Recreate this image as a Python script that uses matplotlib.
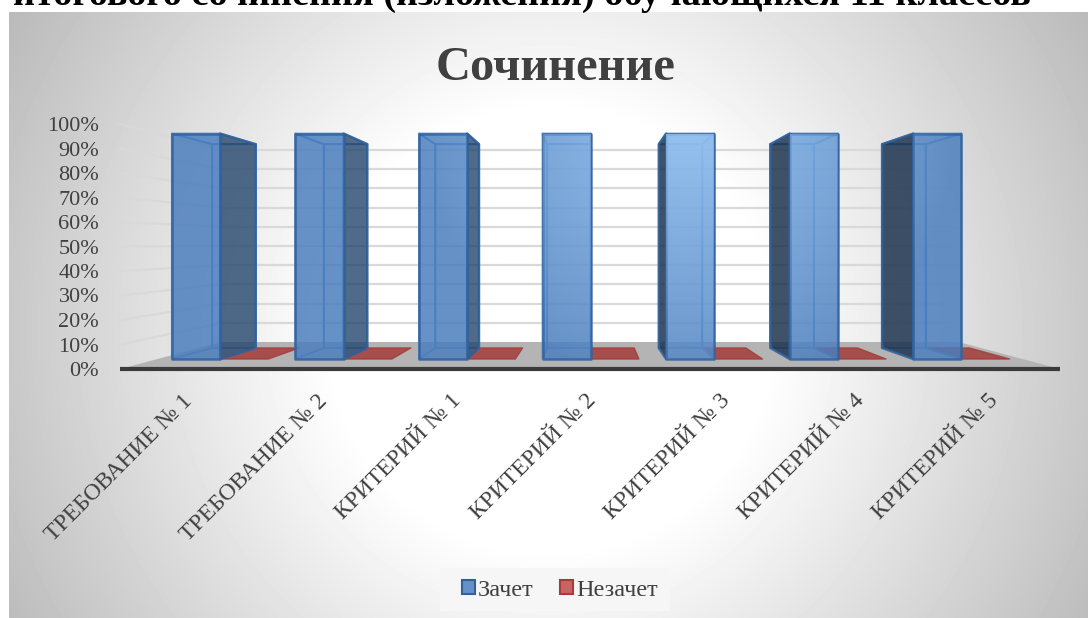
import numpy as np
import matplotlib
matplotlib.use('Agg')
import matplotlib.pyplot as plt
from matplotlib.colors import to_rgba
from matplotlib.patches import Polygon, Patch, Rectangle
from matplotlib.transforms import ScaledTranslation

plt.rcParams['font.family'] = ['Liberation Serif', 'DejaVu Serif']

categories = ['ТРЕБОВАНИЕ № 1', 'ТРЕБОВАНИЕ № 2', 'КРИТЕРИЙ № 1', 'КРИТЕРИЙ № 2',
              'КРИТЕРИЙ № 3', 'КРИТЕРИЙ № 4', 'КРИТЕРИЙ № 5']
zachet = [100, 100, 100, 100, 100, 100, 100]
nezachet = [0, 0, 0, 0, 0, 0, 0]
y_ticks = [0, 10, 20, 30, 40, 50, 60, 70, 80, 90, 100]
y_labels = ['0%', '10%', '20%', '30%', '40%', '50%', '60%', '70%', '80%', '90%', '100%']

W, H = 1088, 618
BLUE = '#4a7dbd'
EDGE = '#2f619c'
RED = '#a33c3a'
TEXT = '#404040'

# fake 3d: depth t goes 0 (front) .. 1 (back wall), shrinking to a vanishing point
VX, VY = 3.5, 51.0
BAR_T = (0.37, 0.78)
BAR_W = (0.116, 0.506, 0.896)
PX_X, PX_Y = 940 / 7, 245 / 100


def proj(x, y, t):
    s = 1 - 0.216 * t
    return (VX + (x - VX) * s, VY + (y - VY) * s)


def face(ax, pts, color, alpha, z, edge=EDGE, lw=1.8):
    p = Polygon(pts, closed=True, facecolor=to_rgba(color, alpha), edgecolor=to_rgba(edge, 0.85),
                lw=lw, zorder=z, clip_on=False, joinstyle='round')
    ax.add_patch(p)
    return p


def highlight(ax, pts, z):
    # the light spot on the front faces, strongest around the fifth bar
    xs = [p[0] for p in pts]
    ys = [p[1] for p in pts]
    ext = (min(xs), max(xs), min(ys), max(ys))
    gx, gy = np.meshgrid(np.linspace(ext[0], ext[1], 40), np.linspace(ext[3], ext[2], 120))
    d = np.hypot((gx - 4.24) * PX_X, (gy - 100) * PX_Y)
    img = np.zeros(gx.shape + (4,))
    img[..., :3] = to_rgba('#a8d4ff')[:3]
    img[..., 3] = 0.75 * np.clip(1 - d / 270, 0, 1)
    im = ax.imshow(img, extent=ext, aspect='auto', zorder=z, interpolation='bilinear')
    im.set_clip_path(Polygon(pts, closed=True, transform=ax.transData))


fig = plt.figure(figsize=(W / 100, H / 100), dpi=100, facecolor='white')

# chart area background
bg = fig.add_axes([9 / W, 0, (W - 9) / W, (H - 12) / H], zorder=0)
yy, xx = np.mgrid[12:H, 9:W]
r = np.hypot(xx - 550, yy - 330)
grey = np.clip(255 - np.clip(r - 220, 0, None) * 0.17, 0, 255) / 255
bg.imshow(grey, cmap='gray', vmin=0, vmax=1, aspect='auto', interpolation='bilinear')
bg.axis('off')

ax = fig.add_axes([120 / W, (H - 369) / H, 940 / W, 245 / H], zorder=1)
ax.patch.set_alpha(0)
for spine in ax.spines.values():
    spine.set_visible(False)

# floor
ax.add_patch(Polygon([proj(0, 0, 0), proj(7, 0, 0), proj(7, 0, 1), proj(0, 0, 1)], closed=True,
                     facecolor='#b4b4b4', edgecolor='none', zorder=1, clip_on=False))

# walls
for v in y_ticks[1:]:
    a = proj(0, v, 1)
    b = proj(7, v, 1)
    ax.plot([a[0], b[0]], [a[1], b[1]], color='#d9d9d9', lw=1.6, zorder=2, clip_on=False)
    c = proj(0, v, 0)
    ax.plot([c[0], a[0]], [c[1], a[1]], color='#d9d9d9', lw=1.6, zorder=2, clip_on=False)

ax.plot([0, 7], [0, 0], color='#3a3a3a', lw=3, zorder=3, clip_on=False, solid_capstyle='butt')

# red series lies flat on the floor
for i, v in enumerate(nezachet):
    x0, x1 = i + BAR_W[1], i + BAR_W[2]
    t0, t1 = BAR_T
    face(ax, [proj(x0, v, t0), proj(x1, v, t0), proj(x1, v, t1), proj(x0, v, t1)],
         RED, 0.85, 4, edge='#a33c3a', lw=1)

# blue series, outer bars first
order = sorted(range(len(categories)), key=lambda k: -abs(k + 0.31 - VX))
for n, i in enumerate(order):
    z = 5 + n
    x0, x1 = i + BAR_W[0], i + BAR_W[1]
    v = zachet[i]
    t0, t1 = BAR_T
    fl, fr = proj(x0, 0, t0), proj(x1, 0, t0)
    tl, tr = proj(x0, v, t0), proj(x1, v, t0)
    bl, br = proj(x0, 0, t1), proj(x1, 0, t1)
    ul, ur = proj(x0, v, t1), proj(x1, v, t1)
    # back, hidden faces
    face(ax, [bl, br, ur, ul], BLUE, 0.15, z, edge='#4f86c8', lw=1.4)
    face(ax, [tl, tr, ur, ul], BLUE, 0.1, z, edge='#4f86c8', lw=1.4)
    # the side that faces the viewer is the dark one
    if x1 < VX:
        face(ax, [fl, tl, ul, bl], BLUE, 0.1, z, edge='#4f86c8', lw=1.4)
        face(ax, [fr, br, ur, tr], '#1f3f66', 0.75, z)
    elif x0 > VX:
        face(ax, [fr, tr, ur, br], BLUE, 0.1, z, edge='#4f86c8', lw=1.4)
        face(ax, [fl, bl, ul, tl], '#162c47', 0.8, z)
    else:
        face(ax, [fl, tl, ul, bl], BLUE, 0.1, z, edge='#4f86c8', lw=1.4)
        face(ax, [fr, tr, ur, br], BLUE, 0.1, z, edge='#4f86c8', lw=1.4)
    front = [fl, fr, tr, tl]
    face(ax, front, BLUE, 0.82, z)
    highlight(ax, front, z + 0.5)

ax.set_xlim(0, 7)
ax.set_ylim(0, 100)
ax.set_yticks(y_ticks)
ax.set_yticklabels(y_labels, fontsize=16, color=TEXT)
ax.set_xticks(np.arange(len(categories)) + 0.5)
ax.set_xticklabels(categories, fontsize=17, color=TEXT, rotation=45, ha='right', rotation_mode='anchor')
ax.tick_params(axis='both', length=0)
ax.tick_params(axis='y', pad=15)
ax.tick_params(axis='x', pad=16)
nudge = ScaledTranslation(-5 / 100, 1 / 100, fig.dpi_scale_trans)
for lab in ax.get_xticklabels():
    lab.set_transform(lab.get_transform() + nudge)

fig.text(556 / W, 1 - 80 / H, 'Сочинение', fontsize=34.8, fontweight='bold', color=TEXT, ha='center', va='baseline')

# page text above the chart, cut off by the image edge
fig.text(13 / W, 1 - 5 / H, 'итогового сочинения (изложения) обучающихся 11 классов', fontsize=27.5,
         fontweight='bold', color='black', ha='left', va='baseline')

# legend plate
fig.add_artist(Rectangle((440 / W, 1 - 611 / H), 230 / W, 43 / H, transform=fig.transFigure,
                         facecolor='#f6f6f6', edgecolor='none', zorder=0.5))
handles = [Patch(facecolor='#6591c9', edgecolor=EDGE, lw=1.5, label='Зачет'),
           Patch(facecolor='#c96464', edgecolor='#a33c3a', lw=1.5, label='Незачет')]
ax.legend(handles=handles, ncol=2, loc='center', bbox_to_anchor=(560 / W, 1 - 590 / H),
          bbox_transform=fig.transFigure, frameon=False, fontsize=17.5, labelcolor=TEXT,
          handlelength=0.55, handleheight=0.55, handletextpad=0.135, columnspacing=1.08, borderpad=0.6)

fig.savefig('out.png', dpi=100)
